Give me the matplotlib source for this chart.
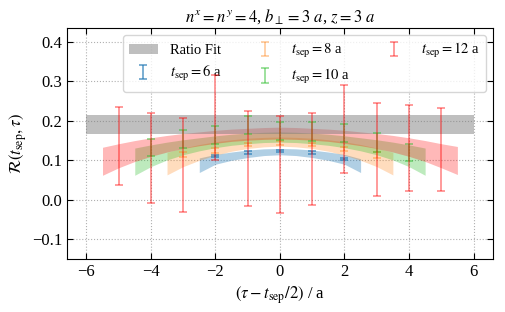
import matplotlib
matplotlib.use('Agg')
import matplotlib.pyplot as plt
import numpy as np

plt.rcParams['font.family'] = ['Liberation Serif', 'DejaVu Serif']
plt.rcParams['mathtext.fontset'] = 'stix'

# ---------------- data ----------------
tseps = [6, 8, 10, 12]
colors = {6: '#1f77b4', 8: '#ff7f0e', 10: '#32c032', 12: '#ff0000'}
bar_alpha = {6: 0.75, 8: 0.45, 10: 0.6, 12: 0.5}
band_alpha = {6: 0.35, 8: 0.27, 10: 0.32, 12: 0.28}

# data points: x = tau - tsep/2
x6 = [-2, -1, 0, 1, 2]
y6 = [0.111, 0.120, 0.123, 0.119, 0.103]
e6 = [0.003, 0.0035, 0.003, 0.0035, 0.003]

x8 = [-3, -2, -1, 0, 1, 2, 3]
y8 = [0.115, 0.124, 0.140, 0.143, 0.139, 0.128, 0.114]
e8 = [0.006, 0.006, 0.005, 0.005, 0.004, 0.005, 0.008]

x10 = [-4, -3, -2, -1, 0, 1, 2, 3, 4]
y10 = [0.133, 0.154, 0.164, 0.189, 0.174, 0.173, 0.169, 0.145, 0.120]
e10 = [0.022, 0.023, 0.023, 0.022, 0.022, 0.023, 0.022, 0.023, 0.022]

x12 = [-5, -4, -3, -2, -1, 0, 1, 2, 3, 4, 5]
y12 = [0.136, 0.106, 0.088, 0.209, 0.104, 0.089, 0.103, 0.179, 0.128, 0.131, 0.128]
e12 = [0.098, 0.113, 0.120, 0.107, 0.121, 0.122, 0.117, 0.112, 0.118, 0.108, 0.105]

# ratio fit band
ratio_x = [-6, 6]
ratio_c = 0.190
ratio_e = 0.0235

# fit bands (read at half-unit steps)
bx6 = [-2.5, -2, -1.5, -1, -0.5, 0, 0.5, 1, 1.5, 2, 2.5]
bu6 = [0.106, 0.115, 0.121, 0.126, 0.129, 0.130, 0.129, 0.126, 0.121, 0.115, 0.104]
bl6 = [0.069, 0.090, 0.100, 0.107, 0.112, 0.114, 0.112, 0.107, 0.100, 0.090, 0.069]

bx8 = [-3.5, -3, -2.5, -2, -1.5, -1, -0.5, 0, 0.5, 1, 1.5, 2, 2.5, 3, 3.5]
bu8 = [0.120, 0.131, 0.140, 0.147, 0.152, 0.156, 0.158, 0.159,
       0.158, 0.156, 0.152, 0.147, 0.140, 0.131, 0.120]
bl8 = [0.063, 0.084, 0.100, 0.113, 0.123, 0.130, 0.134, 0.136,
       0.134, 0.130, 0.123, 0.113, 0.100, 0.084, 0.063]

bx10 = [-4.5, -4, -3.5, -3, -2.5, -2, -1.5, -1, -0.5, 0,
        0.5, 1, 1.5, 2, 2.5, 3, 3.5, 4, 4.5]
bu10 = [0.131, 0.139, 0.146, 0.152, 0.157, 0.162, 0.166, 0.169, 0.171, 0.172,
        0.171, 0.169, 0.166, 0.162, 0.157, 0.152, 0.146, 0.139, 0.131]
bl10 = [0.062, 0.084, 0.101, 0.114, 0.124, 0.132, 0.138, 0.142, 0.145, 0.146,
        0.145, 0.142, 0.138, 0.132, 0.124, 0.114, 0.101, 0.084, 0.062]

bx12 = [-5.5, -5, -4.5, -4, -3.5, -3, -2.5, -2, -1.5, -1, -0.5, 0,
        0.5, 1, 1.5, 2, 2.5, 3, 3.5, 4, 4.5, 5, 5.5]
bu12 = [0.133, 0.142, 0.150, 0.157, 0.163, 0.168, 0.172, 0.176, 0.179, 0.181, 0.183, 0.184,
        0.183, 0.181, 0.179, 0.176, 0.172, 0.168, 0.163, 0.157, 0.150, 0.142, 0.135]
bl12 = [0.062, 0.081, 0.097, 0.110, 0.121, 0.130, 0.137, 0.143, 0.148, 0.151, 0.153, 0.154,
        0.153, 0.151, 0.148, 0.143, 0.137, 0.130, 0.121, 0.110, 0.097, 0.081, 0.064]

points = {6: (x6, y6, e6), 8: (x8, y8, e8), 10: (x10, y10, e10), 12: (x12, y12, e12)}
bands = {6: (bx6, bu6, bl6), 8: (bx8, bu8, bl8), 10: (bx10, bu10, bl10), 12: (bx12, bu12, bl12)}

# ---------------- plot ----------------
fig = plt.figure(figsize=(5.05, 3.12), dpi=100)
ax = fig.add_axes([0.1327, 0.170, 0.8433, 0.740])

ax.fill_between(ratio_x, ratio_c - ratio_e, ratio_c + ratio_e, color='gray',
                alpha=0.5, lw=0, label='Ratio Fit', zorder=2)

for t in tseps:
    bx, bu, bl = bands[t]
    ax.fill_between(bx, bl, bu, color=colors[t], alpha=band_alpha[t], lw=0, zorder=1)

for t in tseps:
    x, y, e = points[t]
    ax.errorbar(x, y, yerr=e, fmt='none', ecolor=colors[t], alpha=bar_alpha[t],
                capsize=3, elinewidth=1.1, capthick=1.1, zorder=6,
                label=r'$t_{\mathrm{sep}}=%d$ a' % t)

ax.set_xlim(-6.6, 6.6)
ax.set_ylim(-0.15, 0.435)
ax.set_xticks([-6, -4, -2, 0, 2, 4, 6])
ax.set_yticks([-0.1, 0.0, 0.1, 0.2, 0.3, 0.4])
ax.tick_params(direction='in', top=True, right=True, labelsize=12, length=4)
ax.grid(True, ls=':', color='#b0b0b0', lw=0.8)
ax.set_axisbelow(True)

ax.set_xlabel(r'$(\tau - t_{\mathrm{sep}}/2)$ / a', fontsize=12, labelpad=3)
ax.set_ylabel(r'$\mathcal{R}(t_{\mathrm{sep}}, \tau)$', fontsize=12, labelpad=2)
ax.set_title(r'$n^x = n^y = 4$, $b_\perp = 3\ a$, $z = 3\ a$', fontsize=12, pad=5)

leg = ax.legend(ncol=3, loc='upper right', fontsize=10.5, framealpha=0.8,
                columnspacing=2.0, handlelength=2.0)
leg.set_zorder(5)

fig.savefig('out.png', dpi=100)
